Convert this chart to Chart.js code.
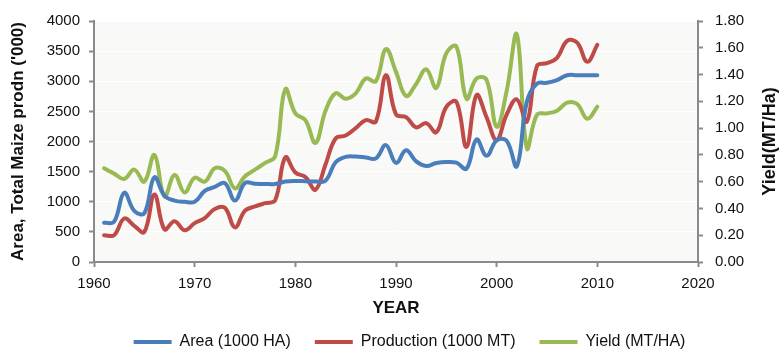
<!DOCTYPE html>
<html lang="en">
<head>
    <meta charset="UTF-8">
    <title>Maize area, production and yield</title>
    <script src="https://cdn.jsdelivr.net/npm/chart.js"></script>
    <style>
        html, body { margin: 0; padding: 0; background: #ffffff; }
        #wrap { width: 781px; height: 353px; }
    </style>
</head>
<body>
    <div id="wrap"><canvas id="myChart" width="781" height="353"></canvas></div>
    <script>
        // values
        const years = [1961, 1962, 1963, 1964, 1965, 1966, 1967, 1968, 1969, 1970,
                       1971, 1972, 1973, 1974, 1975, 1976, 1977, 1978, 1979, 1980,
                       1981, 1982, 1983, 1984, 1985, 1986, 1987, 1988, 1989, 1990,
                       1991, 1992, 1993, 1994, 1995, 1996, 1997, 1998, 1999, 2000,
                       2001, 2002, 2003, 2004, 2005, 2006, 2007, 2008, 2009, 2010];
        const area = [650, 670, 1150, 850, 810, 1405, 1100, 1020, 1000, 1000,
                      1180, 1245, 1310, 1020, 1310, 1300, 1295, 1295, 1335, 1345,
                      1340, 1335, 1350, 1655, 1745, 1750, 1735, 1720, 1940, 1645,
                      1855, 1670, 1595, 1642, 1660, 1648, 1550, 2033, 1763, 2020,
                      2010, 1589, 2660, 2960, 2975, 3020, 3100, 3100, 3100, 3100];
        const production = [445, 445, 722, 600, 500, 1122, 543, 678, 527, 645,
                            730, 880, 900, 575, 852, 922, 976, 1025, 1735, 1485,
                            1410, 1200, 1620, 2050, 2100, 2223, 2355, 2330, 3100, 2450,
                            2405, 2235, 2305, 2153, 2576, 2657, 1910, 2770, 2400, 2025,
                            2450, 2700, 2330, 3252, 3300, 3389, 3670, 3640, 3323, 3605];
        const yieldVals = [0.70, 0.66, 0.62, 0.69, 0.60, 0.80, 0.49, 0.65, 0.52, 0.63,
                           0.60, 0.70, 0.68, 0.55, 0.64, 0.69, 0.74, 0.79, 1.29, 1.11,
                           1.06, 0.89, 1.13, 1.26, 1.22, 1.26, 1.37, 1.35, 1.59, 1.42,
                           1.24, 1.33, 1.44, 1.30, 1.56, 1.61, 1.22, 1.37, 1.36, 1.01,
                           1.28, 1.70, 0.85, 1.10, 1.11, 1.13, 1.19, 1.18, 1.07, 1.16];

        const seriesNames = ['Area (1000 HA)', 'Production (1000 MT)', 'Yield (MT/HA)'];
        const seriesColors = ['#4a7ebb', '#be4b48', '#98b954'];

        const FONT = "'Liberation Sans', Arial, Helvetica, sans-serif";
        const AXIS_GREY = '#8a8a8a';

        function toPoints(values) {
            return years.map((yr, i) => ({ x: yr, y: values[i] }));
        }

        function lineDataset(i, values, axis) {
            return {
                label: seriesNames[i],
                data: toPoints(values),
                yAxisID: axis,
                borderColor: seriesColors[i],
                backgroundColor: seriesColors[i],
                borderWidth: 4,
                borderCapStyle: 'round',
                borderJoinStyle: 'round',
                pointRadius: 0,
                pointHoverRadius: 0,
                tension: 0.4,
                fill: false
            };
        }

        // light panel behind the plot, legend nudged right, right axis title read bottom-to-top
        const panelPlugin = {
            id: 'panel',
            afterLayout(chart) {
                chart.legend.left += 19;
                chart.legend.right += 19;
            },
            beforeDraw(chart) {
                const a = chart.chartArea;
                const ctx = chart.ctx;
                ctx.save();
                ctx.fillStyle = '#f9f9f7';
                ctx.fillRect(a.left, a.top, a.right - a.left, a.bottom - a.top);
                ctx.restore();
            },
            afterDraw(chart) {
                const a = chart.chartArea;
                const ctx = chart.ctx;
                ctx.save();
                ctx.translate(770, (a.top + a.bottom) / 2);
                ctx.rotate(-Math.PI / 2);
                ctx.font = 'bold 18px ' + FONT;
                ctx.fillStyle = '#111';
                ctx.textAlign = 'center';
                ctx.textBaseline = 'middle';
                ctx.fillText('Yield(MT/Ha)', 0, 0);
                ctx.restore();
            }
        };

        const ctx = document.getElementById('myChart').getContext('2d');
        const myChart = new Chart(ctx, {
            type: 'line',
            data: {
                datasets: [
                    lineDataset(0, area, 'y'),
                    lineDataset(1, production, 'y'),
                    lineDataset(2, yieldVals, 'y1')
                ]
            },
            options: {
                responsive: false,
                animation: false,
                layout: { padding: { top: 16, bottom: -7, left: 0, right: 0 } },
                plugins: {
                    tooltip: { enabled: false },
                    legend: {
                        position: 'bottom',
                        labels: {
                            boxWidth: 38,
                            boxHeight: 4,
                            padding: 24,
                            color: '#111',
                            font: { family: FONT, size: 16 },
                            generateLabels(chart) {
                                const items = Chart.defaults.plugins.legend.labels.generateLabels(chart);
                                items.forEach(it => { it.lineWidth = 0; });
                                return items;
                            }
                        }
                    }
                },
                scales: {
                    x: {
                        type: 'linear',
                        min: 1960,
                        max: 2020,
                        afterFit(scale) { scale.height = 48; },
                        ticks: {
                            stepSize: 10,
                            padding: 8,
                            color: '#111',
                            font: { family: FONT, size: 15 },
                            callback: v => String(v)
                        },
                        grid: { drawOnChartArea: false, tickLength: 5, tickColor: AXIS_GREY, tickWidth: 2 },
                        border: { color: AXIS_GREY, width: 2 },
                        title: {
                            display: true,
                            text: 'YEAR',
                            color: '#111',
                            font: { family: FONT, size: 17, weight: 'bold' },
                            padding: { top: 0, bottom: -9 }
                        }
                    },
                    y: {
                        position: 'left',
                        min: 0,
                        max: 4000,
                        afterFit(scale) { scale.width = 94; },
                        ticks: {
                            stepSize: 500,
                            padding: 9,
                            color: '#111',
                            font: { family: FONT, size: 15 },
                            callback: v => String(v)
                        },
                        grid: { color: '#ffffff', lineWidth: 1, tickLength: 5, tickColor: AXIS_GREY, tickWidth: 2 },
                        border: { color: AXIS_GREY, width: 2 },
                        title: {
                            display: true,
                            text: "Area, Total Maize prodn ('000)",
                            color: '#111',
                            font: { family: FONT, size: 17, weight: 'bold' },
                            padding: { top: 8, bottom: 0 }
                        }
                    },
                    y1: {
                        position: 'right',
                        min: 0,
                        max: 1.8,
                        afterFit(scale) { scale.width = 83; },
                        ticks: {
                            stepSize: 0.2,
                            padding: 12,
                            color: '#111',
                            font: { family: FONT, size: 15 },
                            callback: v => Number(v).toFixed(2)
                        },
                        grid: { drawOnChartArea: false, tickLength: 5, tickColor: AXIS_GREY, tickWidth: 2 },
                        border: { color: AXIS_GREY, width: 2 }
                    }
                }
            },
            plugins: [panelPlugin]
        });
    </script>
</body>
</html>
